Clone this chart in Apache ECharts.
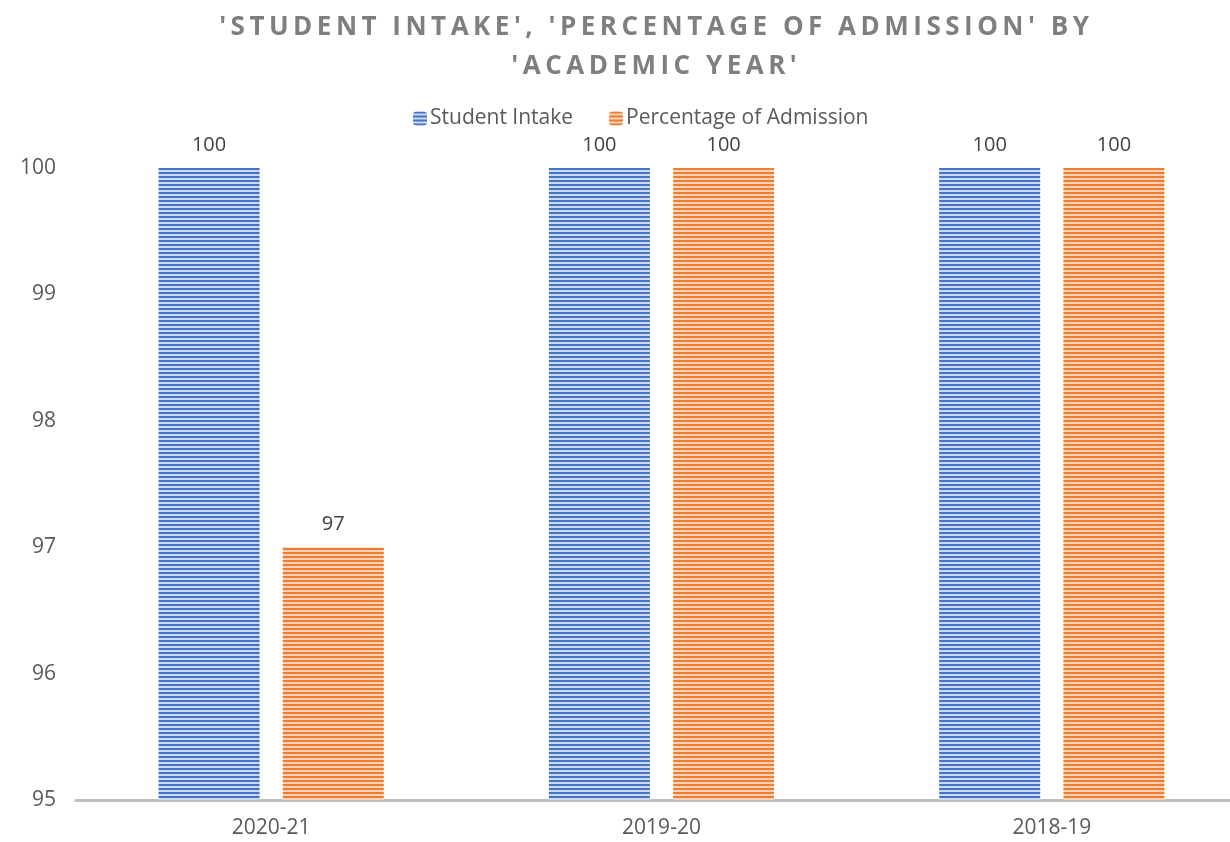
<!DOCTYPE html>
<html>
<head>
<meta charset="utf-8">
<script src="https://cdn.jsdelivr.net/npm/echarts@6/dist/echarts.min.js"></script>
<style>html,body{margin:0;padding:0;background:#fff;}#c{width:1230px;height:842px;}</style>
</head>
<body>
<div id="c"></div>
<script>
const titleLines = ["'STUDENT INTAKE', 'PERCENTAGE OF ADMISSION' BY", "'ACADEMIC YEAR'"];
const categories = ['2020-21', '2019-20', '2018-19'];
const studentIntake = [100, 100, 100];
const percentageOfAdmission = [97, 100, 100];
const yTicks = [95, 96, 97, 98, 99, 100];

// letter-spaced title text (canvas letterSpacing), recentred
const TITLE_SPACING = 4.5;
const origFill = CanvasRenderingContext2D.prototype.fillText;
CanvasRenderingContext2D.prototype.fillText = function (t, x, y, m) {
  if (typeof this.font === 'string' && this.font.indexOf('bold') >= 0 && this.font.indexOf('26px') >= 0 && 'letterSpacing' in this) {
    const extra = TITLE_SPACING * (String(t).length - 1);
    const prev = this.letterSpacing;
    this.letterSpacing = TITLE_SPACING + 'px';
    let dx = 0;
    if (this.textAlign === 'left' || this.textAlign === 'start') dx = -extra / 2;
    else if (this.textAlign === 'right' || this.textAlign === 'end') dx = extra / 2;
    else dx = TITLE_SPACING / 2;
    const r = m === undefined ? origFill.call(this, t, x + dx, y) : origFill.call(this, t, x + dx, y, m + extra);
    this.letterSpacing = prev;
    return r;
  }
  return m === undefined ? origFill.call(this, t, x, y) : origFill.call(this, t, x, y, m);
};

function stripe(dark, light) {
  const c = document.createElement('canvas');
  c.width = 4; c.height = 4;
  const g = c.getContext('2d');
  g.fillStyle = light; g.fillRect(0, 0, 4, 4);
  g.fillStyle = dark; g.fillRect(0, 0, 4, 2);
  return { image: c, repeat: 'repeat' };
}

const chart = echarts.init(document.getElementById('c'));
const labelStyle = { show: true, position: 'top', distance: 13, color: '#404040', fontSize: 20, fontFamily: 'Open Sans' };
chart.setOption({
  animation: false,
  title: {
    text: titleLines.join('\n'),
    left: 649, top: 3, textAlign: 'center',
    textStyle: { fontFamily: 'Open Sans', fontWeight: 'bold', fontSize: 26, color: '#7f7f7f', lineHeight: 39, align: 'center' }
  },
  legend: {
    top: 103, left: 408, itemWidth: 14, itemHeight: 14, itemGap: 36,
    textStyle: { color: '#595959', fontSize: 21, fontFamily: 'Open Sans', padding: [0, 0, 0, -2] },
    data: ['Student Intake', 'Percentage of Admission']
  },
  grid: { left: 76, top: 168, right: -17, bottom: 42, containLabel: false, outerBoundsMode: 'none' },
  xAxis: {
    type: 'category', data: categories,
    axisLine: { lineStyle: { color: '#bfbfbf', width: 3 } },
    axisTick: { show: false },
    axisLabel: { color: '#595959', fontSize: 21, fontFamily: 'Open Sans', margin: 18 }
  },
  yAxis: {
    type: 'value', min: yTicks[0], max: yTicks[yTicks.length - 1], interval: 1,
    axisLine: { show: false }, axisTick: { show: false }, splitLine: { show: false },
    axisLabel: { color: '#595959', fontSize: 21, fontFamily: 'Open Sans', margin: 20 }
  },
  series: [
    { name: 'Student Intake', type: 'bar', data: studentIntake, barWidth: 101, barGap: '23%',
      itemStyle: { color: stripe('#4472c4', '#cdd9ef') }, label: labelStyle },
    { name: 'Percentage of Admission', type: 'bar', data: percentageOfAdmission, barWidth: 101,
      itemStyle: { color: stripe('#ed7d31', '#f9d3b6') }, label: labelStyle }
  ]
});
</script>
</body>
</html>
